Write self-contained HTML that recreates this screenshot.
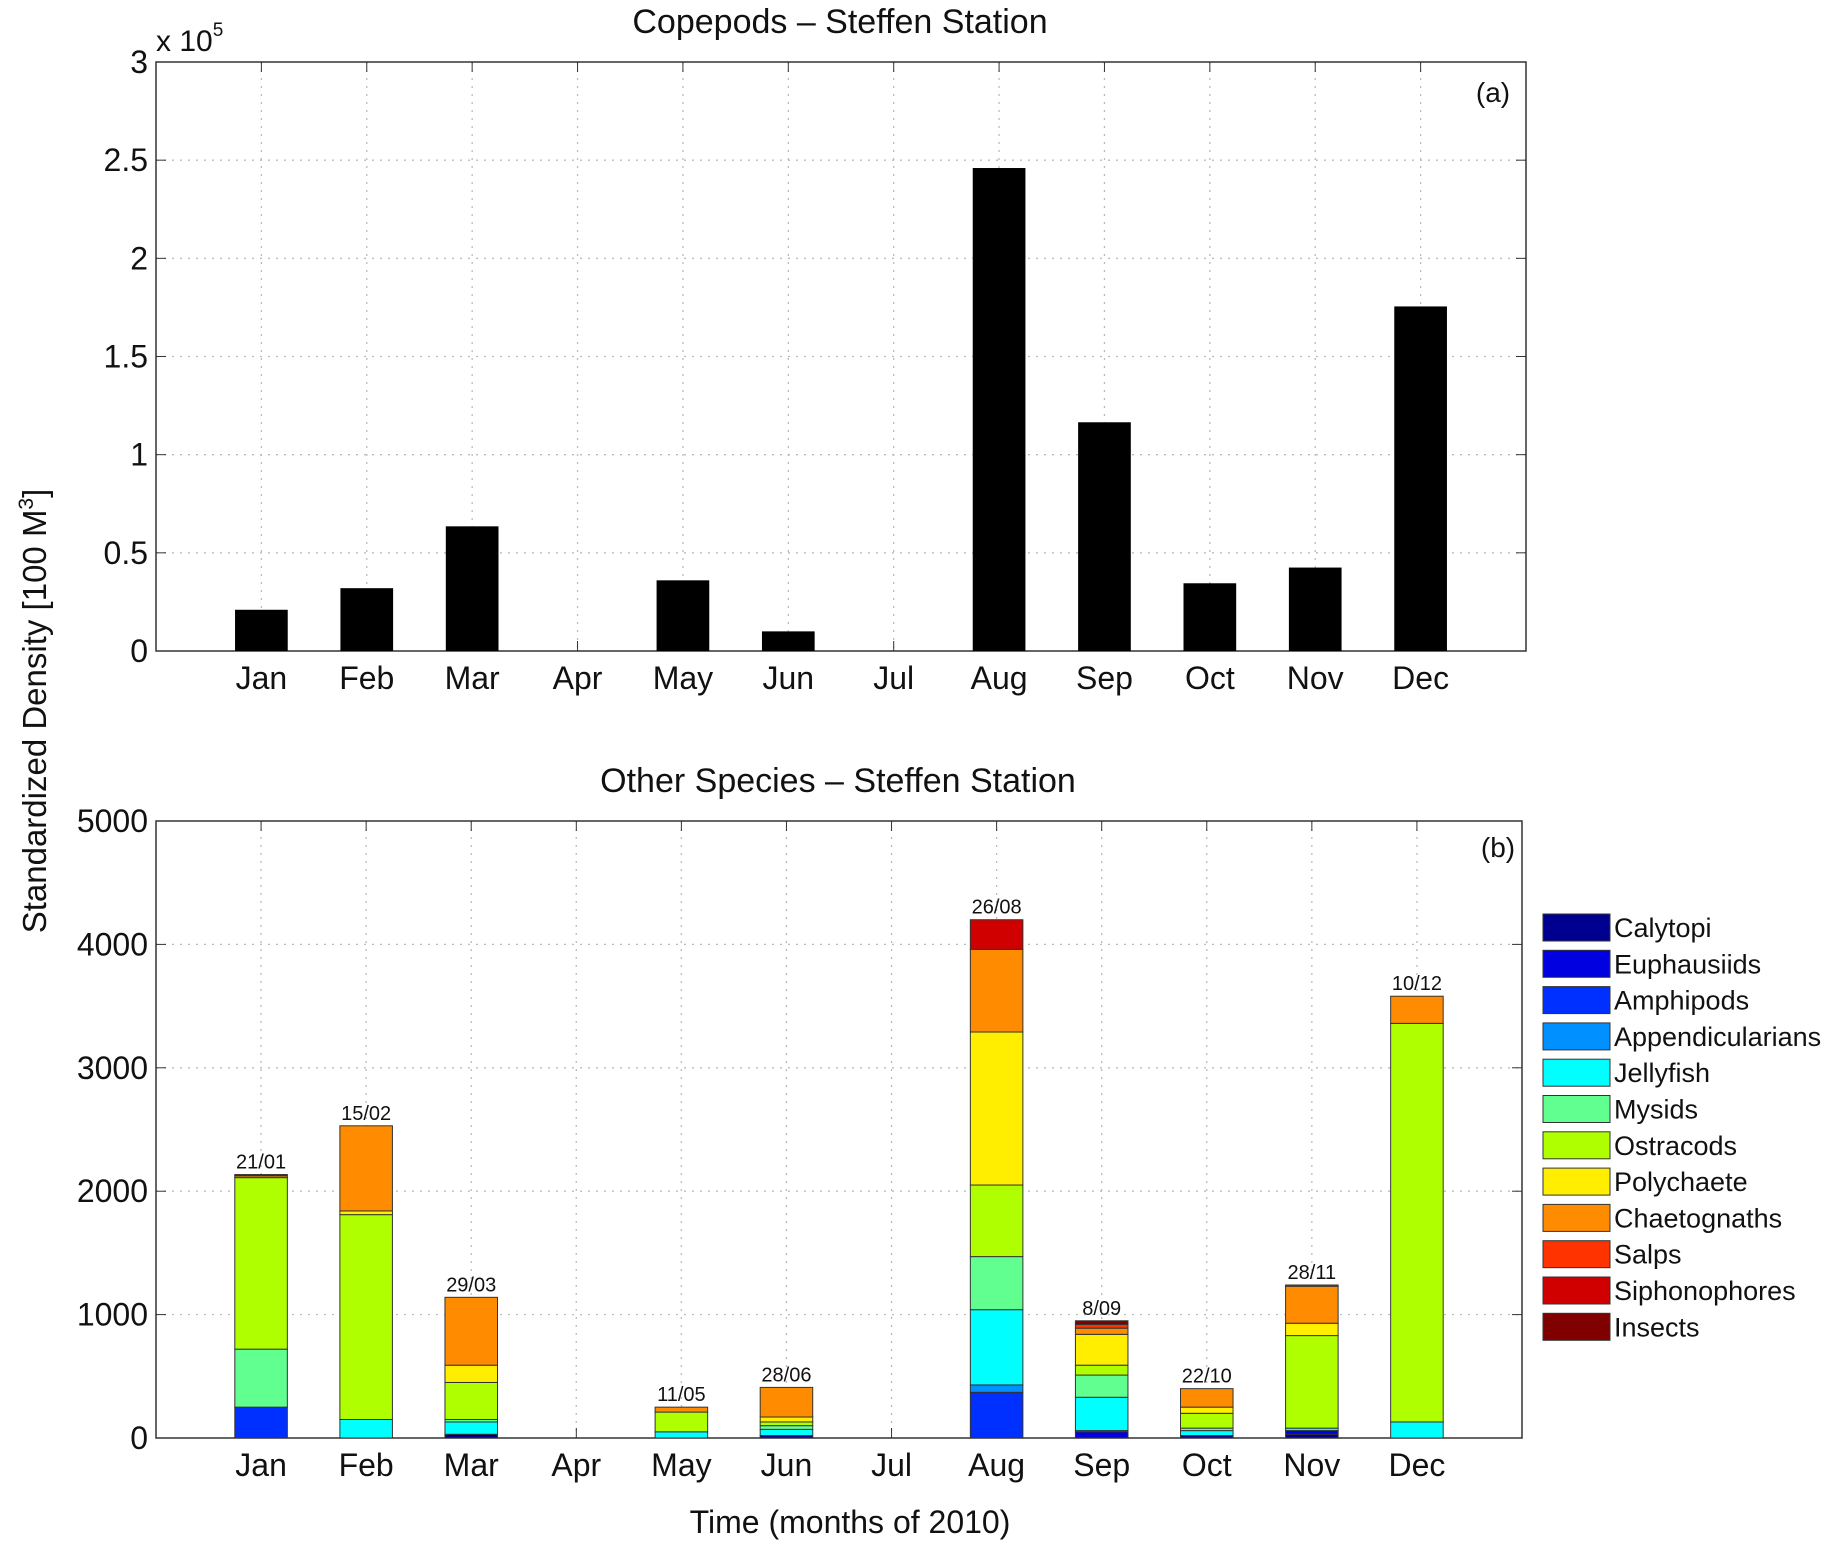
<!DOCTYPE html>
<html><head><meta charset="utf-8"><style>
body{margin:0;background:#fff}
svg{display:block;font-family:"Liberation Sans",Arial,sans-serif}
</style></head><body>
<svg id="c" width="1829" height="1550" viewBox="0 0 1829 1550"></svg>
<script>
const months=["Jan","Feb","Mar","Apr","May","Jun","Jul","Aug","Sep","Oct","Nov","Dec"];
const copepods=[0.21,0.32,0.635,0,0.36,0.10,0,2.46,1.165,0.345,0.425,1.755];
const topTicks=[0,0.5,1,1.5,2,2.5,3];
const topTickLabels=["0","0.5","1","1.5","2","2.5","3"];
const species=["Calytopi","Euphausiids","Amphipods","Appendicularians","Jellyfish","Mysids","Ostracods","Polychaete","Chaetognaths","Salps","Siphonophores","Insects"];
const speciesColors=["#000090","#0000e0","#0030ff","#0090ff","#00ffff","#60ff90","#b0ff00","#ffee00","#ff8c00","#ff3300","#d00000","#800000"];
const calytopi=[0,0,30,0,0,20,0,0,0,20,30,0];
const euphausiids=[0,0,0,0,0,0,0,0,50,0,30,0];
const amphipods=[250,0,0,0,0,0,0,370,0,0,0,0];
const appendicularians=[0,0,0,0,0,0,0,60,10,0,0,0];
const jellyfish=[0,150,100,0,50,50,0,610,270,40,20,130];
const mysids=[470,0,20,0,0,30,0,430,180,20,0,0];
const ostracods=[1390,1660,300,0,160,30,0,580,80,120,750,3230];
const polychaete=[0,30,140,0,0,40,0,1240,250,50,100,0];
const chaetognaths=[15,690,550,0,40,240,0,670,50,150,300,220];
const salps=[0,0,0,0,0,0,0,0,30,0,10,0];
const siphonophores=[0,0,0,0,0,0,0,240,0,0,0,0];
const insects=[10,0,0,0,0,0,0,0,30,0,0,0];
const sampleDates=["21/01","15/02","29/03","","11/05","28/06","","26/08","8/09","22/10","28/11","10/12"];
const bottomTicks=[0,1000,2000,3000,4000,5000];
const series=[calytopi,euphausiids,amphipods,appendicularians,jellyfish,mysids,ostracods,polychaete,chaetognaths,salps,siphonophores,insects];

const NS="http://www.w3.org/2000/svg";
const svg=document.getElementById('c');
function mk(tag,attrs,parent,text){const e=document.createElementNS(NS,tag);for(const k in attrs)e.setAttribute(k,attrs[k]);if(text!==undefined)e.textContent=text;(parent||svg).appendChild(e);return e;}

const L=156;
const topBox={l:L,r:1526,t:62,b:651,max:3};
const botBox={l:L,r:1522,t:821,b:1438,max:5000};
function xs(box,i){return box.l+(i+1)*(box.r-box.l)/13;}
function ys(box,v){return box.b-(v/box.max)*(box.b-box.t);}

function axes(box,ticks,labels,name){
  const g=mk('g',{},svg);
  
  
  months.forEach((m,i)=>{const x=xs(box,i);
    const gl=mk('line',{x1:x,x2:x,y1:box.t,y2:box.b,stroke:'#bbb','stroke-dasharray':'2,6','stroke-width':1.3},g);
    
    mk('line',{x1:x,x2:x,y1:box.b,y2:box.b-10,stroke:'#333'},g);
    mk('line',{x1:x,x2:x,y1:box.t,y2:box.t+10,stroke:'#333'},g);
    const t=mk('text',{x:x,y:box.b+38,'text-anchor':'middle','font-size':32,fill:'#111'},g,m);
    
  });
  ticks.forEach((v,i)=>{const y=ys(box,v);
    if(i>0&&i<ticks.length-1){const gl=mk('line',{x1:box.l,x2:box.r,y1:y,y2:y,stroke:'#bbb','stroke-dasharray':'2,6','stroke-width':1.3},g);
      }
    mk('line',{x1:box.l,x2:box.l+10,y1:y,y2:y,stroke:'#333'},g);
    mk('line',{x1:box.r,x2:box.r-10,y1:y,y2:y,stroke:'#333'},g);
    const t=mk('text',{x:box.l-8,y:y+11,'text-anchor':'end','font-size':32,fill:'#111'},g,labels[i]);
    
  });
  const r=mk('rect',{x:box.l,y:box.t,width:box.r-box.l,height:box.b-box.t,fill:'none',stroke:'#333','stroke-width':1.5},g);
  
}

axes(topBox,topTicks,topTickLabels,'copepods');
axes(botBox,bottomTicks,bottomTicks.map(String),'other-species');

const bw=(topBox.r-topBox.l)/13*0.5;
copepods.forEach((v,i)=>{if(v<=0)return;const y=ys(topBox,v);
  const r=mk('rect',{x:xs(topBox,i)-bw/2,y:y,width:bw,height:topBox.b-y,fill:'#000'});
  
});

const bw2=(botBox.r-botBox.l)/13*0.5;
months.forEach((m,i)=>{let acc=0;
  series.forEach((s,k)=>{const v=s[i];if(v<=0)return;
    const y0=ys(botBox,acc),y1=ys(botBox,acc+v);acc+=v;
    const r=mk('rect',{x:xs(botBox,i)-bw2/2,y:y1,width:bw2,height:y0-y1,fill:speciesColors[k],stroke:'#333','stroke-width':1});
    
  });
  if(sampleDates[i]){const t=mk('text',{x:xs(botBox,i),y:ys(botBox,acc)-6,'text-anchor':'middle','font-size':20,fill:'#111'},svg,sampleDates[i]);
    }
});

species.forEach((s,k)=>{const y=927+k*36.3;
  const r=mk('rect',{x:1543,y:y-13,width:67,height:27,fill:speciesColors[k],stroke:'#333','stroke-width':1});
  
  const t=mk('text',{x:1614,y:y+10,'font-size':27,fill:'#111'},svg,s);
  
});

function txt(x,y,s,size,name,extra){const t=mk('text',Object.assign({x:x,y:y,'font-size':size,fill:'#111'},extra||{}),svg,s);
  return t;}
txt(840,33,'Copepods \u2013 Steffen Station',34,'top-chart-title',{'text-anchor':'middle'});
txt(838,792,'Other Species \u2013 Steffen Station',34,'bottom-chart-title',{'text-anchor':'middle'});
txt(1493,102,'(a)',28,'panel-label-a',{'text-anchor':'middle'});
txt(1498,857,'(b)',28,'panel-label-b',{'text-anchor':'middle'});
const ex=txt(156,51,'x 10',30,'y-axis-exponent');
mk('tspan',{dy:-15,'font-size':19},ex,'5');
txt(850,1533,'Time (months of 2010)',32,'x-axis-title',{'text-anchor':'middle'});
const yl=txt(0,0,'Standardized Density [100 M',33,'y-axis-title',{'text-anchor':'middle',transform:'translate(46,711) rotate(-90)'});
mk('tspan',{dy:-13,'font-size':21},yl,'3');
mk('tspan',{dy:13},yl,']');
</script>
</body></html>
